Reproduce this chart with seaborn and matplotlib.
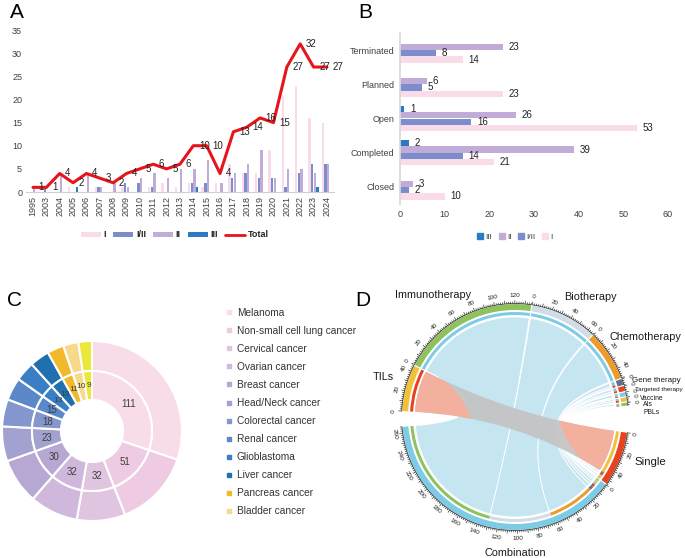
import numpy as np
import pandas as pd
import matplotlib
matplotlib.use("Agg")
import matplotlib.pyplot as plt
import seaborn as sns
from matplotlib.patches import Wedge, PathPatch, Circle, Patch
from matplotlib.path import Path
from matplotlib.lines import Line2D
from matplotlib.collections import LineCollection

# ---------------- data ----------------
years = ['1995', '2003', '2004', '2005', '2006', '2007', '2008', '2009', '2010', '2011', '2012',
         '2013', '2014', '2015', '2016', '2017', '2018', '2019', '2020', '2021', '2022', '2023', '2024']
phase_I = [0, 0, 0, 1, 0, 1, 0, 1, 0, 1, 2, 1, 2, 1, 2, 6, 4, 4, 9, 21, 23, 16, 15]
phase_I_II = [0, 1, 0, 0, 0, 1, 0, 2, 2, 1, 0, 0, 2, 2, 0, 3, 4, 3, 3, 1, 4, 6, 6]
phase_II = [1, 0, 4, 0, 4, 1, 2, 1, 3, 4, 3, 5, 5, 7, 2, 4, 6, 9, 3, 5, 5, 4, 6]
phase_III = [0, 0, 0, 1, 0, 0, 0, 0, 0, 0, 0, 0, 1, 0, 0, 0, 0, 0, 0, 0, 0, 1, 0]
total = [1, 1, 4, 2, 4, 3, 2, 4, 5, 6, 5, 6, 10, 10, 4, 13, 14, 16, 15, 27, 32, 27, 27]

status = ['Terminated', 'Planned', 'Open', 'Completed', 'Closed']
st_III = [0, 0, 1, 2, 0]
st_II = [23, 6, 26, 39, 3]
st_I_II = [8, 5, 16, 14, 2]
st_I = [14, 23, 53, 21, 10]

cancers = ['Melanoma', 'Non-small cell lung cancer', 'Cervical cancer', 'Ovarian cancer',
           'Breast cancer', 'Head/Neck cancer', 'Colorectal cancer', 'Renal cancer',
           'Glioblastoma', 'Liver cancer', 'Pancreas cancer', 'Bladder cancer', 'Other']
cancer_counts = [111, 51, 32, 32, 30, 23, 18, 15, 13, 13, 11, 10, 9]

upper_names = ['TILs', 'Immunotherapy', 'Biotherapy', 'Chemotherapy', 'Gene therapy',
               'Targeted therapy', 'Vaccine', 'AIs', 'PBLs']
to_single = [46, 0, 0, 0, 2, 2, 1, 2, 1]
to_combination = [0, 136, 66, 50, 4, 3, 3, 2, 2]
lower_names = ['Single', 'Combination']

# ---------------- style ----------------
sns.set_theme(style='white')
plt.rcParams['font.family'] = ['Liberation Sans', 'DejaVu Sans']
TXT = '#404040'
pal_phase = {'I': '#f9dbe9', 'I/II': '#7b8ecb', 'II': '#c0acd6', 'III': '#2b7bc4'}
RED = '#e8141c'

W, H = 685, 558
fig = plt.figure(figsize=(W / 100, H / 100), dpi=100)


def fbox(x0, y0, x1, y1):
    return [x0 / W, 1 - y1 / H, (x1 - x0) / W, (y1 - y0) / H]


# ---------------- Panel A ----------------
axA = fig.add_axes(fbox(26.3, 30, 333.6, 192))
dfA = pd.DataFrame({'year': years * 4,
                    'phase': ['I'] * 23 + ['I/II'] * 23 + ['II'] * 23 + ['III'] * 23,
                    'count': phase_I + phase_I_II + phase_II + phase_III})
sns.barplot(data=dfA, x='year', y='count', hue='phase', order=years,
            hue_order=['I', 'I/II', 'II', 'III'], palette=pal_phase, saturation=1,
            width=0.8, gap=0.12, linewidth=0, legend=False, ax=axA)
xs = np.arange(len(years))
sns.lineplot(x=xs, y=total, color=RED, lw=2.2, ax=axA)
for x, v in zip(xs, total):
    axA.annotate(str(v), (x, v), xytext=(4, 0), textcoords='offset points',
                 ha='left', va='center', fontsize=7, color='#222222')
axA.set_xlim(-0.5, len(years) - 0.5)
axA.set_ylim(0, 35)
axA.set_yticks(range(0, 36, 5))
axA.set_xticks(xs)
axA.set_xticklabels(years, rotation=90)
axA.tick_params(axis='both', length=0, labelsize=6.5, labelcolor=TXT, pad=3)
axA.set_xlabel('')
axA.set_ylabel('')
for s in ['top', 'right', 'left']:
    axA.spines[s].set_visible(False)
axA.spines['bottom'].set_color('#d0d0d0')
axA.spines['bottom'].set_linewidth(0.8)
hA = [Patch(color=pal_phase[p], lw=0) for p in ['I', 'I/II', 'II', 'III']] + [Line2D([], [], color=RED, lw=2)]
fig.legend(hA, ['I', 'I/II', 'II', 'III', 'Total'], loc='center', bbox_to_anchor=(175 / W, 1 - 235 / H),
           ncol=5, frameon=False, handlelength=2.2, handleheight=0.5,
           handletextpad=0.3, columnspacing=0.8, prop={'weight': 'bold', 'size': 6.5})

# ---------------- Panel B ----------------
axB = fig.add_axes(fbox(400, 32.9, 668, 204.1))
dfB = pd.DataFrame({'status': status * 4,
                    'phase': ['III'] * 5 + ['II'] * 5 + ['I/II'] * 5 + ['I'] * 5,
                    'count': st_III + st_II + st_I_II + st_I})
sns.barplot(data=dfB, y='status', x='count', hue='phase', order=status,
            hue_order=['III', 'II', 'I/II', 'I'], palette=pal_phase, saturation=1,
            width=0.74, linewidth=0, orient='h', legend=False, ax=axB)
for cont in axB.containers:
    labs = [str(int(v)) if v > 0 else '' for v in cont.datavalues]
    axB.bar_label(cont, labels=labs, padding=4, fontsize=7, color='#222222')
axB.set_xlim(0, 60)
axB.set_xticks(range(0, 61, 10))
axB.tick_params(axis='both', length=0, labelsize=6.5, labelcolor=TXT, pad=4)
axB.set_xlabel('')
axB.set_ylabel('')
for s in ['top', 'right', 'bottom']:
    axB.spines[s].set_visible(False)
axB.spines['left'].set_color('#d9d9d9')
hB = [Line2D([], [], marker='s', ls='', color=pal_phase[p], markersize=4) for p in ['III', 'II', 'I/II', 'I']]
fig.legend(hB, ['III', 'II', 'I/II', 'I'], loc='center', bbox_to_anchor=(515 / W, 1 - 237 / H),
           ncol=4, frameon=False, fontsize=6, handlelength=0.7, handletextpad=0.3,
           columnspacing=0.8, labelcolor=TXT)

# ---------------- Panel C ----------------
cancer_colors = ['#f9dcea', '#eecbe2', '#dfc5e0', '#cfb8db', '#b7a8d3', '#a3a1cf', '#8396cd',
                 '#5a88c8', '#3a7fc6', '#1f70ae', '#f2b92c', '#f6d98b', '#ebe83a']
axC = fig.add_axes(fbox(-3, 336, 187, 526))
tot_c = sum(cancer_counts)
axC.pie(cancer_counts, radius=1.0, startangle=90, counterclock=False, colors=cancer_colors,
        wedgeprops=dict(width=0.333, edgecolor='white', linewidth=1.5))
_, _, pct_txt = axC.pie(cancer_counts, radius=0.667, startangle=90, counterclock=False,
                        colors=cancer_colors,
                        wedgeprops=dict(width=0.322, edgecolor='white', linewidth=1.5),
                        autopct=lambda p: f'{int(round(p * tot_c / 100))}', pctdistance=0.757,
                        textprops=dict(fontsize=7, color=TXT))
for t, v in zip(pct_txt, cancer_counts):
    if v <= 13:
        t.set_fontsize(6)
axC.set_xlim(-95 / 90, 95 / 90)
axC.set_ylim(-95 / 90, 95 / 90)
axC.axis('off')
hC = [Line2D([], [], marker='s', ls='', color=c, markersize=3.2) for c in cancer_colors[:12]]
fig.legend(hC, cancers[:12], loc='upper left', bbox_to_anchor=(226 / W, 1 - 308 / H), frameon=False,
           fontsize=7.3, handlelength=0.6, handletextpad=0.45, labelspacing=0.79,
           borderpad=0, borderaxespad=0, labelcolor='#333333')

# ---------------- Panel D (chord) ----------------
axD = fig.add_axes(fbox(345, 285, 685, 558))
axD.set_xlim(-170, 170)
axD.set_ylim(-141, 132)
axD.axis('off')

up_colors = ['#f1c13a', '#8fc25e', '#d0dde6', '#ee9a2c', '#5f7091', '#e8421e', '#7ecde8', '#f1c13a', '#8fc25e']
low_colors = ['#e8421e', '#7ecbe6']
R_OUT, RING_W = 113, 6
R_TRACK, TRACK_W = 105, 3
R_LINK = 100
k = 0.52
gap = 0.6

up_size = [a + b for a, b in zip(to_single, to_combination)]
up_start = []
a = 177.0
for s in up_size:
    up_start.append(a)
    a -= s * k + gap
low_size = [sum(to_single), sum(to_combination)]
low_start = [-8.0, -8.0 - low_size[0] * k - gap]


def pol(r, ang):
    t = np.deg2rad(ang)
    return (r * np.cos(t), r * np.sin(t))


def arc_pts(r, a1, a2):
    n = max(2, int(abs(a2 - a1) * 2) + 2)
    return [pol(r, t) for t in np.linspace(a1, a2, n)]


def ribbon(a1, a2, b1, b2, r=R_LINK):
    verts, codes = [], []
    p = arc_pts(r, a1, a2)
    verts += p
    codes += [Path.MOVETO] + [Path.LINETO] * (len(p) - 1)
    verts += [(0, 0), pol(r, b1)]
    codes += [Path.CURVE3] * 2
    p = arc_pts(r, b1, b2)
    verts += p[1:]
    codes += [Path.LINETO] * (len(p) - 1)
    verts += [(0, 0), pol(r, a1)]
    codes += [Path.CURVE3] * 2
    verts.append(pol(r, a1))
    codes.append(Path.CLOSEPOLY)
    return Path(verts, codes)


up_links = {}
for i in range(len(upper_names)):
    u = 0
    if to_combination[i] > 0:
        up_links[(i, 1)] = (u, u + to_combination[i]); u += to_combination[i]
    if to_single[i] > 0:
        up_links[(i, 0)] = (u, u + to_single[i]); u += to_single[i]
low_links = {}
u = 0
for i in [0, 4, 5, 6, 7, 8]:
    if to_single[i] > 0:
        low_links[(i, 0)] = (u, u + to_single[i]); u += to_single[i]
u = 0
for i in [8, 7, 6, 5, 4, 3, 2, 1]:
    if to_combination[i] > 0:
        low_links[(i, 1)] = (u, u + to_combination[i]); u += to_combination[i]


def ua(i, u):
    return up_start[i] - u * k


def la(j, u):
    return low_start[j] - u * k


# ribbons
order = [key for key in up_links if key[1] == 1] + [key for key in up_links if key[1] == 0 and key[0] != 0]
for (i, j) in order:
    u0, u1 = up_links[(i, j)]
    v0, v1 = low_links[(i, j)]
    fc = '#c5e5f1' if j == 1 else '#dfe9ee'
    axD.add_patch(PathPatch(ribbon(ua(i, u0), ua(i, u1), la(j, v0), la(j, v1)),
                            fc=fc, ec='white', lw=0.6, zorder=2))
# TILs -> Single ribbon
u0, u1 = up_links[(0, 0)]
v0, v1 = low_links[(0, 0)]
a1, a2, b1, b2 = ua(0, u0), ua(0, u1), la(0, v0), la(0, v1)
rib = PathPatch(ribbon(a1, a2, b1, b2), fc='#c3c3c3', ec='none', alpha=0.93, zorder=3)
axD.add_patch(rib)
for ang, rr in [(a1 + 0.65 * (a1 - a2), 80), (b1 + 0.65 * (b1 - b2), 80)]:
    c = Circle(pol(1.23 * R_LINK, ang), rr, fc='#f4b09f', ec='none', zorder=4)
    axD.add_patch(c)
    c.set_clip_path(rib)

# outer rings + tracks
sectors = [(up_start[i], up_size[i], up_colors[i]) for i in range(len(upper_names))] + \
          [(low_start[j], low_size[j], low_colors[j]) for j in range(2)]
for st, sz, col in sectors:
    axD.add_patch(Wedge((0, 0), R_OUT, st - sz * k, st, width=RING_W, fc=col, ec='none', zorder=5))
for (i, j), (u0, u1) in up_links.items():
    axD.add_patch(Wedge((0, 0), R_TRACK, ua(i, u1), ua(i, u0), width=TRACK_W,
                        fc=low_colors[j], ec='none', zorder=5))
for (i, j), (v0, v1) in low_links.items():
    axD.add_patch(Wedge((0, 0), R_TRACK, la(j, v1), la(j, v0), width=TRACK_W,
                        fc=up_colors[i], ec='none', zorder=5))

# axes ticks
segs = []
for idx, (st, sz, col) in enumerate(sectors):
    p = arc_pts(R_OUT + 0.5, st, st - sz * k)
    axD.plot([q[0] for q in p], [q[1] for q in p], color='#222222', lw=0.5, zorder=6)
    upper = idx < len(upper_names)
    for uu in range(0, sz + 1, 2):
        ang = st - uu * k
        L = 3.2 if uu % 10 == 0 else 1.8
        segs.append([pol(R_OUT + 0.5, ang), pol(R_OUT + 0.5 + L, ang)])
        if uu % 20 == 0:
            rot = ang - 90 if upper else ang + 90
            x, y = pol(R_OUT + 8.5, ang)
            axD.text(x, y, str(uu), fontsize=4.6, rotation=rot, ha='center', va='center',
                     color='#222222', rotation_mode='anchor', zorder=6)
axD.add_collection(LineCollection(segs, colors='#222222', linewidths=0.45, zorder=6))

# sector names
lab_kw = dict(color='#1a1a1a', zorder=7)
axD.text(-82, 122, 'Immunotherapy', fontsize=7.8, ha='center', va='center', **lab_kw)
axD.text(75, 120, 'Biotherapy', fontsize=7.8, ha='center', va='center', **lab_kw)
axD.text(130, 80, 'Chemotherapy', fontsize=7.8, ha='center', va='center', **lab_kw)
axD.text(-132, 40, 'TILs', fontsize=7.8, ha='center', va='center', **lab_kw)
axD.text(117, 36, 'Gene therapy', fontsize=5.8, ha='left', va='center', **lab_kw)
axD.text(120, 27, 'Targeted therapy', fontsize=4.6, ha='left', va='center', **lab_kw)
axD.text(125, 18, 'Vaccine', fontsize=4.9, ha='left', va='center', **lab_kw)
axD.text(128, 12, 'AIs', fontsize=4.9, ha='left', va='center', **lab_kw)
axD.text(128, 5, 'PBLs', fontsize=4.9, ha='left', va='center', **lab_kw)
axD.text(135, -45, 'Single', fontsize=8.2, ha='center', va='center', **lab_kw)
axD.text(0, -136, 'Combination', fontsize=7.8, ha='center', va='center', **lab_kw)

# panel letters
for ch, (x, y) in {'A': (17, 13), 'B': (365, 13), 'C': (15, 300), 'D': (363, 300)}.items():
    fig.text(x / W, 1 - y / H, ch, fontsize=15, ha='center', va='center', color='black')

fig.savefig('out.png', dpi=100)
